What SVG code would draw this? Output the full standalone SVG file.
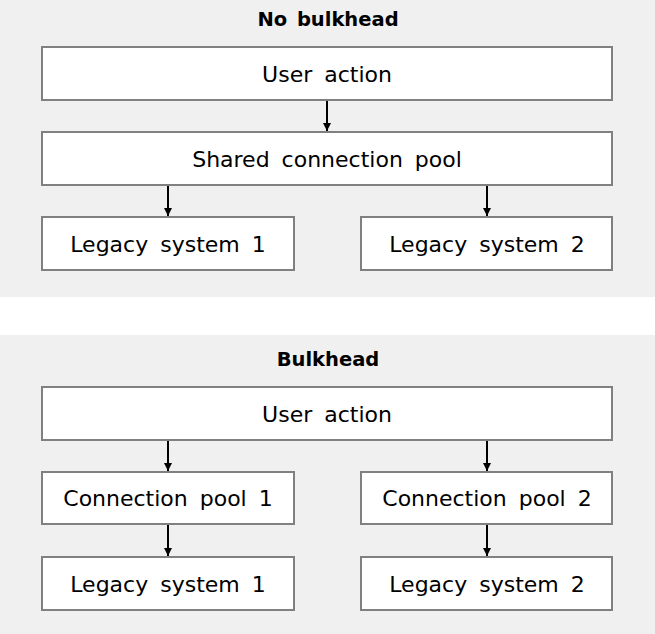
<svg xmlns="http://www.w3.org/2000/svg" width="655" height="634" viewBox="0 0 655 634">
<defs>
<style>
.panel{fill:#f0f0f0}
.box{fill:#ffffff;stroke:#808080;stroke-width:2}
.lbl{font-family:"DejaVu Sans",Verdana,sans-serif;font-size:22px;fill:#000;text-anchor:middle;dominant-baseline:central;word-spacing:5px}
.ttl{font-family:"DejaVu Sans",Verdana,sans-serif;font-size:19.5px;font-weight:bold;fill:#000;text-anchor:middle;dominant-baseline:central;word-spacing:3px}
.conn{stroke:#000;stroke-width:2;fill:none;marker-end:url(#arr)}
</style>
<marker id="arr" viewBox="0 0 10 10" refX="10" refY="5" markerWidth="4" markerHeight="4" markerUnits="strokeWidth" orient="auto">
<path d="M0,0 L10,5 L0,10 z" fill="#000"/>
</marker>
</defs>
<rect x="0" y="0" width="655" height="634" fill="#ffffff"/>
<rect class="panel" x="0" y="0" width="655" height="297"/>
<rect class="panel" x="0" y="335" width="655" height="299"/>
<text class="ttl" x="328" y="19">No bulkhead</text>
<text class="ttl" x="328" y="359">Bulkhead</text>
<g id="connectors">
<line class="conn" x1="327" y1="101" x2="327" y2="131"/>
<line class="conn" x1="168" y1="185" x2="168" y2="216"/>
<line class="conn" x1="487" y1="185" x2="487" y2="216"/>
<line class="conn" x1="168" y1="440" x2="168" y2="471"/>
<line class="conn" x1="487" y1="440" x2="487" y2="471"/>
<line class="conn" x1="168" y1="524" x2="168" y2="556"/>
<line class="conn" x1="487" y1="524" x2="487" y2="556"/>
</g>
<g id="top-user-action"><rect class="box" x="42" y="47" width="570" height="53"/><text class="lbl" x="327" y="74">User action</text></g>
<g id="shared-pool"><rect class="box" x="42" y="132" width="570" height="53"/><text class="lbl" x="327" y="159">Shared connection pool</text></g>
<g id="top-legacy-1"><rect class="box" x="42" y="217" width="252" height="53"/><text class="lbl" x="168" y="244">Legacy system 1</text></g>
<g id="top-legacy-2"><rect class="box" x="361" y="217" width="251" height="53"/><text class="lbl" x="487" y="244">Legacy system 2</text></g>
<g id="bottom-user-action"><rect class="box" x="42" y="387" width="570" height="53"/><text class="lbl" x="327" y="414">User action</text></g>
<g id="pool-1"><rect class="box" x="42" y="472" width="252" height="52"/><text class="lbl" x="168" y="498">Connection pool 1</text></g>
<g id="pool-2"><rect class="box" x="361" y="472" width="251" height="52"/><text class="lbl" x="487" y="498">Connection pool 2</text></g>
<g id="bottom-legacy-1"><rect class="box" x="42" y="557" width="252" height="53"/><text class="lbl" x="168" y="584">Legacy system 1</text></g>
<g id="bottom-legacy-2"><rect class="box" x="361" y="557" width="251" height="53"/><text class="lbl" x="487" y="584">Legacy system 2</text></g>
</svg>
